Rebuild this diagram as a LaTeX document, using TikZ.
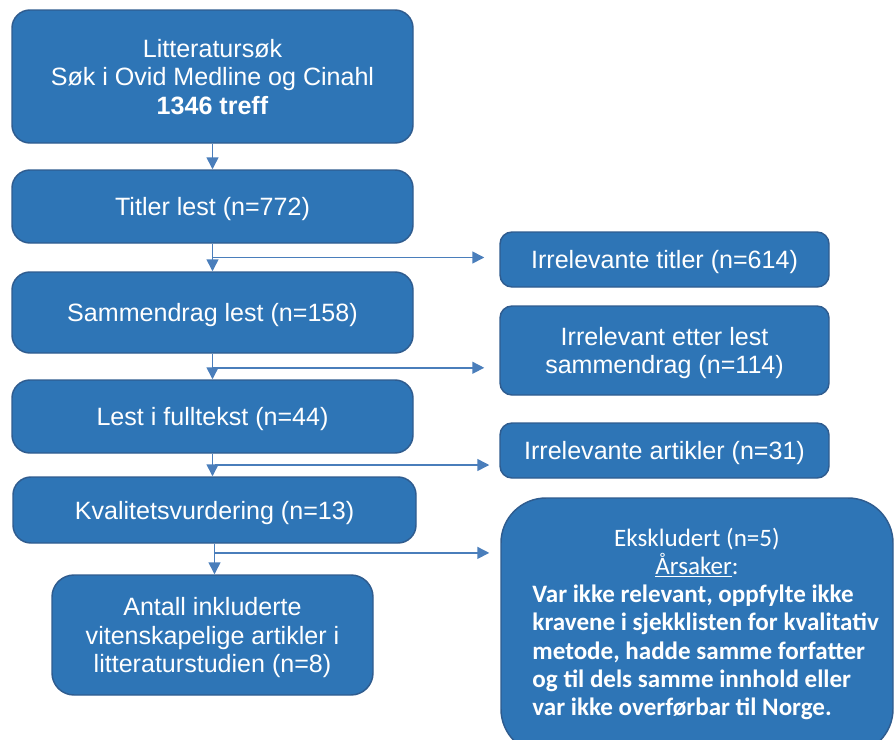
\documentclass[tikz,border=0pt]{standalone}
\usepackage{fontspec}
\setmainfont{Liberation Sans}
\newfontfamily\calfont{Carlito}
\usetikzlibrary{calc,arrows.meta}

\definecolor{boxblue}{HTML}{2E75B6}
\definecolor{boxline}{HTML}{2F5C8F}
\definecolor{arrowblue}{HTML}{4A7EBB}
\def\pxl{0.75pt}

\tikzset{
  flowbox/.style={draw=boxline, fill=boxblue, line width=1.1pt, text=white,
    rounded corners=18*\pxl, align=center, inner sep=0pt, text depth=0pt,
    font=\fontsize{18.8}{21.4}\selectfont},
  sidebox/.style={flowbox, rounded corners=12*\pxl},
  flowarrow/.style={draw=arrowblue, line width=1.1pt,
    -{Triangle[length=9pt,width=9pt]}}
}

\begin{document}
\begin{tikzpicture}[x=0.75pt, y=-0.75pt]
            \useasboundingbox (0,0) rectangle (896,739);
            \clip (0,0) rectangle (896,739);

            % main column
            \node[flowbox, minimum width=401*\pxl, minimum height=133*\pxl] (search) at (212.5,76.5)
              {Litteraturs\o k\\ S\o k i Ovid Medline og Cinahl\\ \textbf{1346 treff}};
            \node[flowbox, minimum width=401*\pxl, minimum height=73*\pxl] (titles) at (212.5,206.5)
              {Titler lest (n=772)};
            \node[flowbox, minimum width=401*\pxl, minimum height=81*\pxl] (abstracts) at (212.5,312.5)
              {Sammendrag lest (n=158)};
            \node[flowbox, minimum width=401*\pxl, minimum height=73*\pxl] (fulltext) at (212.5,416.5)
              {Lest i fulltekst (n=44)};
            \node[flowbox, minimum width=403*\pxl, minimum height=66*\pxl] (quality) at (214.5,510)
              {Kvalitetsvurdering (n=13)};
            \node[flowbox, rounded corners=22*\pxl, minimum width=321*\pxl, minimum height=120*\pxl] (included) at (212.5,635)
              {Antall inkluderte\\ vitenskapelige artikler i\\ litteraturstudien (n=8)};

            % excluded column
            \node[sidebox, minimum width=329*\pxl, minimum height=55*\pxl] (irrtitles) at (664.5,259.5)
              {Irrelevante titler (n=614)};
            \node[sidebox, minimum width=329*\pxl, minimum height=89*\pxl] (irrabstracts) at (664.5,350.5)
              {Irrelevant etter lest\\ sammendrag (n=114)};
            \node[sidebox, minimum width=329*\pxl, minimum height=55*\pxl] (irrarticles) at (664.5,450.5)
              {Irrelevante artikler (n=31)};
            \node[flowbox, rounded corners=45*\pxl, minimum width=392*\pxl, minimum height=256*\pxl,
              text depth=, font=\calfont\fontsize{18.8}{21.2}\selectfont] (excluded) at (697,626)
              {Ekskludert (n=5)\\ \underline{\AA rsaker}:\\
               \hspace*{13pt}\begin{tabular}[t]{@{}l@{}}\bfseries Var ikke relevant, oppfylte ikke\\
               \bfseries kravene i sjekklisten for kvalitativ\\
               \bfseries metode, hadde samme forfatter\\
               \bfseries og til dels samme innhold eller\\
               \bfseries var ikke overf\o rbar til Norge.\end{tabular}};

            % branch points
            \coordinate (b1) at ($(titles.south)!0.5!(abstracts.north)$);
            \coordinate (b2) at ($(abstracts.south)!0.55!(fulltext.north)$);
            \coordinate (b3) at ($(fulltext.south)!0.5!(quality.north)$);
            \coordinate (b4) at ($(quality.south)!0.3!(included.north)$);

            \draw[flowarrow] (search) -- (titles);
            \draw[flowarrow] (titles) -- (abstracts);
            \draw[flowarrow] (abstracts) -- (fulltext);
            \draw[flowarrow] (fulltext.south) -- (fulltext.south |- quality.north);
            \draw[flowarrow] (quality.south) -- (quality.south |- included.north);

            \draw[flowarrow, shorten >=15*\pxl] (b1) -- (b1 -| irrtitles.west);
            \draw[flowarrow, shorten >=15*\pxl] (b2) -- (b2 -| irrabstracts.west);
            \draw[flowarrow, shorten >=10*\pxl] (b3 -| quality.south) -- (b3 -| irrarticles.west);
            \draw[flowarrow, shorten >=11*\pxl] (b4) -- (b4 -| excluded.west);

        \end{tikzpicture}
\end{document}
